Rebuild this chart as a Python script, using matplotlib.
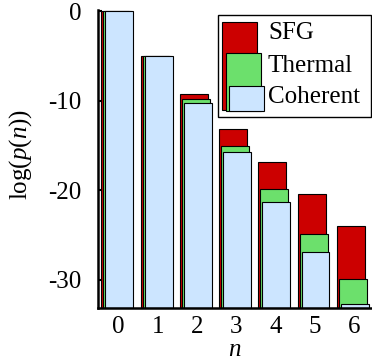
import numpy as np
import matplotlib
matplotlib.use('Agg')
import matplotlib.pyplot as plt
from matplotlib.patches import Rectangle

plt.rcParams['font.family'] = 'Liberation Serif'
plt.rcParams['mathtext.fontset'] = 'custom'
plt.rcParams['mathtext.rm'] = 'Liberation Serif'
plt.rcParams['mathtext.it'] = 'Liberation Serif:italic'
plt.rcParams['axes.unicode_minus'] = False

# data
n = [0, 1, 2, 3, 4, 5, 6]
sfg = [0.0, -5.0, -9.2, -13.1, -16.8, -20.4, -24.0]
thermal = [0.0, -5.0, -9.85, -15.0, -19.9, -24.9, -29.9]
coherent = [0.0, -5.0, -10.2, -15.7, -21.3, -26.9, -32.7]
labels = ['SFG', 'Thermal', 'Coherent']
colors = ['#cc0000', '#6ce06c', '#cce5ff']

W, H = 372, 360
fs = 18
fig = plt.figure(figsize=(W / 100, H / 100), dpi=100)
ax = fig.add_axes([97.7 / W, 1 - 307.5 / H, 1 - 97.7 / W, (307.5 - 10) / H])

ybot, ytop = -33.1, 0.15
x = np.array(n, dtype=float)
width = 0.713
offsets = [-0.08, -0.03, 0.02]
for vals, off, c in zip([sfg, thermal, coherent], offsets, colors):
    v = np.array(vals)
    ax.bar(x + off, v - ybot, bottom=ybot, width=width, color=c,
           edgecolor='black', linewidth=0.8)

ax.set_xlim(-0.53, 6.46)
ax.set_ylim(ybot, ytop)
ax.set_xticks(n)
ax.set_yticks([0, -10, -20, -30])
ax.tick_params(axis='y', direction='in', length=3, width=1.5, pad=12, labelsize=fs)
ax.tick_params(axis='x', length=0, pad=6, labelsize=fs)
for s in ['top', 'right']:
    ax.spines[s].set_visible(False)
for s in ['left', 'bottom']:
    ax.spines[s].set_linewidth(1.8)

ax.set_xlabel(r'$n$', fontsize=fs, labelpad=1)
ax.set_ylabel(r'log($p$($n$))', fontsize=fs)
ax.yaxis.set_label_coords((34 - 97.7) / (W - 97.7), (307.5 - 154) / 297.5)

# legend drawn as in the original: overlapping tall swatches
def px(xp, yp):
    return xp / W, 1 - yp / H

bx0, by0 = px(218, 117)
bx1, by1 = px(371, 15)
fig.patches.append(Rectangle((bx0, by0), bx1 - bx0, by1 - by0, transform=fig.transFigure,
                             facecolor='white', edgecolor='black', linewidth=1.0, zorder=5))
swatches = [(221.7, 21.7, 257.3, 110), (225.7, 53.3, 261, 111), (229.3, 86, 264, 111)]
baselines = [39.3, 71.7, 103.3]
for (x0, y0, x1, y1), c, lab, bl in zip(swatches, colors, labels, baselines):
    fx0, fy0 = px(x0, y1)
    fx1, fy1 = px(x1, y0)
    fig.patches.append(Rectangle((fx0, fy0), fx1 - fx0, fy1 - fy0, transform=fig.transFigure,
                                 facecolor=c, edgecolor='black', linewidth=0.8, zorder=6))
    tx, ty = px(268, bl)
    fig.text(tx, ty, lab, fontsize=fs, va='baseline', ha='left', zorder=7)

fig.savefig('out.png', dpi=100)
